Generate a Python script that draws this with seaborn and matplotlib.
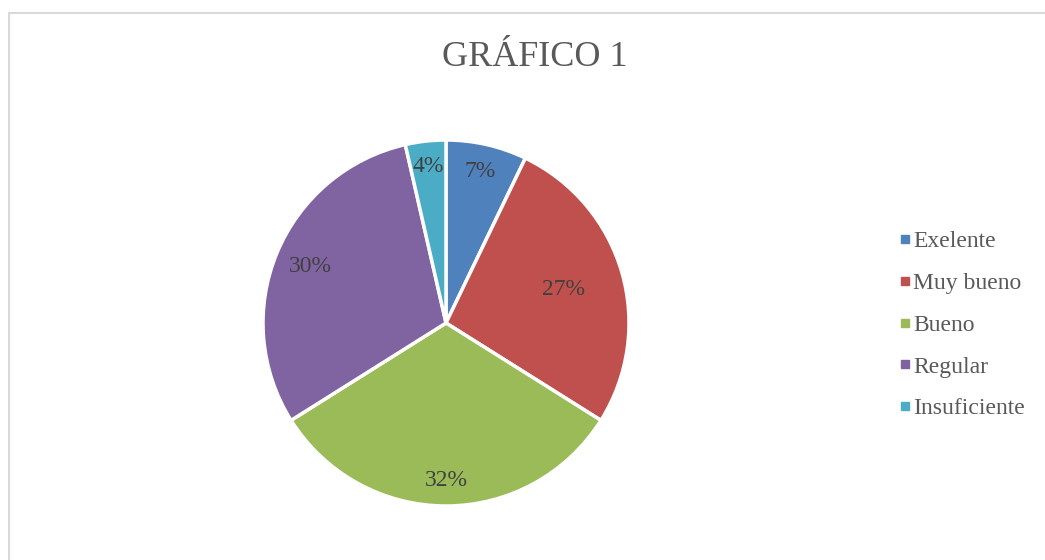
import matplotlib
matplotlib.use('Agg')
import matplotlib.pyplot as plt
from matplotlib.lines import Line2D
import numpy as np
import seaborn as sns

# data
categories = ['Exelente', 'Muy bueno', 'Bueno', 'Regular', 'Insuficiente']
counts = [4, 15, 18, 17, 2]
title = 'GRÁFICO 1'

# style
colors = ['#4F81BD', '#C0504D', '#9BBB59', '#8064A2', '#4BACC6']
label_radius = [0.85, 0.67, 0.86, 0.80, 0.86]

sns.set_theme(style='white')
plt.rcParams['font.family'] = ['Liberation Serif', 'DejaVu Serif']

W, H = 1045, 560
fig = plt.figure(figsize=(W / 100, H / 100), dpi=100)

# chart border (only top & left visible in the crop)
border = '#D9D9D9'
fig.add_artist(Line2D([8.5 / W, 8.5 / W], [0, 1 - 12.5 / H], color=border, lw=1.5))
fig.add_artist(Line2D([8.5 / W, 1.0], [1 - 12.5 / H, 1 - 12.5 / H], color=border, lw=1.5))

cx, cy, r = 446, 323, 183
ax = fig.add_axes([(cx - r) / W, (H - cy - r) / H, 2 * r / W, 2 * r / H])

wedges, texts, autotexts = ax.pie(
    counts, colors=colors, startangle=90, counterclock=False,
    autopct='%1.0f%%', pctdistance=0.85,
    wedgeprops=dict(edgecolor='white', linewidth=2.5),
    textprops=dict(color='#404040', fontsize=17))

# move percentage labels like Excel "inside end"
for w, t, rr in zip(wedges, autotexts, label_radius):
    ang = np.deg2rad((w.theta1 + w.theta2) / 2)
    t.set_position((rr * np.cos(ang), rr * np.sin(ang)))

ax.set_xlim(-1, 1)
ax.set_ylim(-1, 1)
ax.set_aspect('equal')
ax.axis('off')

fig.text(535 / W, 1 - 57 / H, title, ha='center', va='center',
         fontsize=26, color='#595959')

handles = [Line2D([0], [0], marker='s', color='none', markerfacecolor=c,
                  markeredgecolor=c, markersize=6) for c in colors]
fig.legend(handles, categories, loc='center left',
           bbox_to_anchor=(886 / W, 1 - 325 / H), frameon=False,
           fontsize=17, labelcolor='#595959', handlelength=0.6,
           handletextpad=0.05, labelspacing=0.86, borderpad=0)

fig.savefig('out.png', dpi=100, facecolor='white')
